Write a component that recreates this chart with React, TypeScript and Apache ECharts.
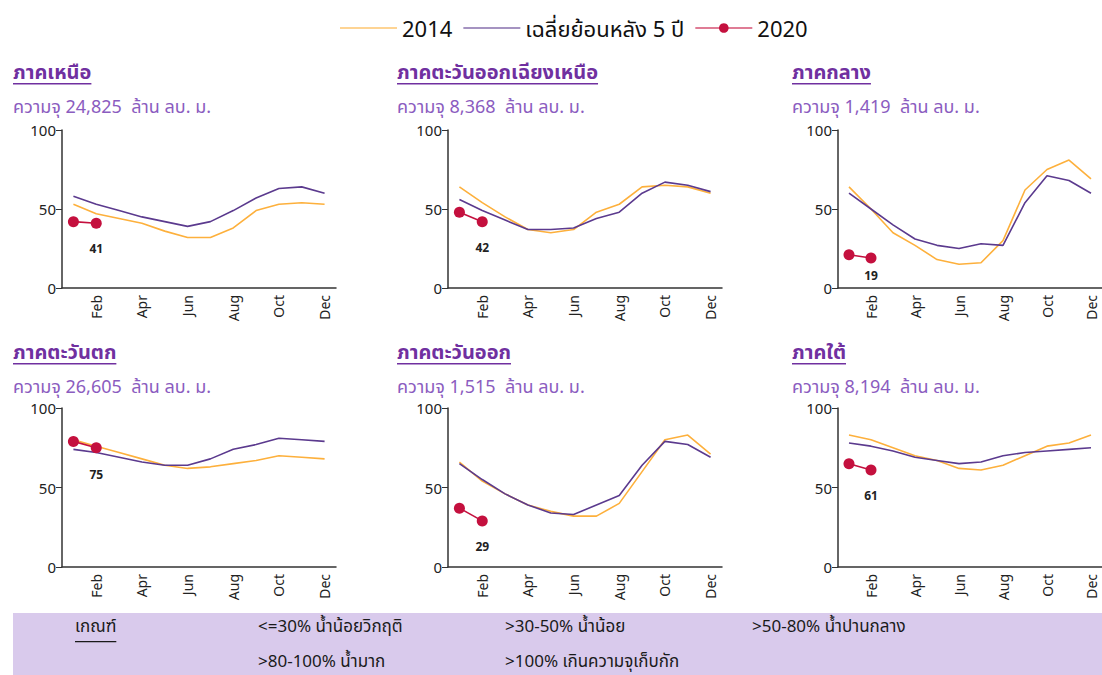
import React, { useEffect, useRef } from 'react';
import * as echarts from 'echarts';

const months = ['Jan', 'Feb', 'Mar', 'Apr', 'May', 'Jun', 'Jul', 'Aug', 'Sep', 'Oct', 'Nov', 'Dec'];
const regionNames = ['ภาคเหนือ', 'ภาคตะวันออกเฉียงเหนือ', 'ภาคกลาง', 'ภาคตะวันตก', 'ภาคตะวันออก', 'ภาคใต้'];
const capacities = ['24,825', '8,368', '1,419', '26,605', '1,515', '8,194'];
const yTicks = [0, 50, 100];

const north2014 = [53, 47, 44, 41, 36, 32, 32, 38, 49, 53, 54, 53];
const northAvg = [58, 53, 49, 45, 42, 39, 42, 49, 57, 63, 64, 60];
const north2020 = [42, 41];

const ne2014 = [64, 54, 45, 37, 35, 37, 48, 53, 64, 65, 64, 60];
const neAvg = [56, 49, 43, 37, 37, 38, 44, 48, 60, 67, 65, 61];
const ne2020 = [48, 42];

const central2014 = [64, 50, 35, 27, 18, 15, 16, 30, 62, 75, 81, 69];
const centralAvg = [60, 50, 40, 31, 27, 25, 28, 27, 54, 71, 68, 60];
const central2020 = [21, 19];

const west2014 = [80, 76, 72, 68, 64, 62, 63, 65, 67, 70, 69, 68];
const westAvg = [74, 72, 69, 66, 64, 64, 68, 74, 77, 81, 80, 79];
const west2020 = [79, 75];

const east2014 = [66, 54, 46, 39, 35, 32, 32, 40, 60, 80, 83, 71];
const eastAvg = [65, 55, 46, 39, 34, 33, 39, 45, 64, 79, 77, 69];
const east2020 = [37, 29];

const south2014 = [83, 80, 75, 70, 67, 62, 61, 64, 70, 76, 78, 83];
const southAvg = [78, 76, 73, 69, 67, 65, 66, 70, 72, 73, 74, 75];
const south2020 = [65, 61];

const seriesNames = ['2014', 'เฉลี่ยย้อนหลัง 5 ปี', '2020'];
const criteriaTitle = 'เกณฑ์';
const criteriaRow1 = ['<=30% น้ำน้อยวิกฤติ', '>30-50% น้ำน้อย', '>50-80% น้ำปานกลาง'];
const criteriaRow2 = ['>80-100% น้ำมาก', '>100% เกินความจุเก็บกัก'];

const data2014 = [north2014, ne2014, central2014, west2014, east2014, south2014];
const dataAvg = [northAvg, neAvg, centralAvg, westAvg, eastAvg, southAvg];
const data2020 = [north2020, ne2020, central2020, west2020, east2020, south2020];

const FONT = '"Noto Sans", "Noto Sans Thai", "Open Sans", sans-serif';
const C2014 = '#FDB03C';
const CAVG = '#5B3A8E';
const C2020 = '#C4103E';
const TITLE_C = '#7030A0';
const SUB_C = '#8B5CC0';

function measure(text: string, font: string): number {
  const c = document.createElement('canvas').getContext('2d');
  if (!c) return text.length * 10;
  c.font = font;
  return c.measureText(text).width;
}

export default function App() {
  const ref = useRef<HTMLDivElement>(null);
  useEffect(() => {
    document.body.style.margin = '0';
    document.body.style.overflow = 'hidden';
    if (!ref.current) return;
    const chart = echarts.init(ref.current, null, { renderer: 'svg' });

    const colX = [62, 448, 838];
    const rowTop = [130, 408];
    const gw = 274;
    const gh = 158;
    const titleX = [13, 397, 792];
    const titleY = [75, 355];
    const subY = [110, 390];
    const labelDist = [14, 14, 6, 15, 14, 14];

    const grids: any[] = [];
    const xAxes: any[] = [];
    const yAxes: any[] = [];
    const series: any[] = [];
    const graphics: any[] = [];

    regionNames.forEach((name, i) => {
      const col = i % 3;
      const row = Math.floor(i / 3);
      grids.push({ left: colX[col], top: rowTop[row], width: gw, height: gh + (row === 1 ? 1 : 0) });
      xAxes.push({
        type: 'category',
        gridIndex: i,
        data: months,
        boundaryGap: true,
        axisLine: { show: true, lineStyle: { color: '#333', width: 1.5 } },
        axisTick: { show: false },
        axisLabel: {
          rotate: 90,
          interval: (idx: number) => idx % 2 === 1,
          color: '#222',
          fontSize: 14,
          fontFamily: FONT,
          margin: 7,
        },
        splitLine: { show: false },
      });
      yAxes.push({
        type: 'value',
        gridIndex: i,
        min: yTicks[0],
        max: yTicks[yTicks.length - 1],
        interval: 50,
        axisLine: { show: true, lineStyle: { color: '#333', width: 1.5 } },
        axisTick: { show: true, length: 6, lineStyle: { color: '#333' } },
        axisLabel: { color: '#222', fontSize: 15, fontFamily: FONT, margin: 6 },
        splitLine: { show: false },
      });
      series.push({
        name: seriesNames[0],
        type: 'line',
        xAxisIndex: i,
        yAxisIndex: i,
        data: data2014[i],
        symbol: 'none',
        lineStyle: { color: C2014, width: 1.6 },
        itemStyle: { color: C2014 },
      });
      series.push({
        name: seriesNames[1],
        type: 'line',
        xAxisIndex: i,
        yAxisIndex: i,
        data: dataAvg[i],
        symbol: 'none',
        lineStyle: { color: CAVG, width: 1.6 },
        itemStyle: { color: CAVG },
      });
      series.push({
        name: seriesNames[2],
        type: 'line',
        xAxisIndex: i,
        yAxisIndex: i,
        data: data2020[i].map((v, k) =>
          k === data2020[i].length - 1 ? { value: v, label: { show: true } } : v
        ),
        symbol: 'circle',
        symbolSize: 11,
        lineStyle: { color: C2020, width: 1.6 },
        itemStyle: { color: C2020 },
        label: {
          show: false,
          position: 'bottom',
          distance: labelDist[i],
          color: '#222',
          fontSize: 12,
          fontWeight: 'bold',
          fontFamily: FONT,
        },
        z: 5,
      });

      const tFont = `bold 20px ${FONT}`;
      const tw = measure(name, tFont);
      graphics.push({
        type: 'text',
        left: titleX[col],
        top: titleY[row] - 14,
        style: { text: name, fill: TITLE_C, font: tFont },
      });
      graphics.push({
        type: 'rect',
        shape: { x: titleX[col], y: titleY[row] + 8, width: tw, height: 1.6 },
        style: { fill: TITLE_C },
      });
      graphics.push({
        type: 'text',
        left: titleX[col],
        top: subY[row] - 13,
        style: { text: `ความจุ ${capacities[i]}  ล้าน ลบ. ม.`, fill: SUB_C, font: `18px ${FONT}` },
      });
    });

    // criteria box
    graphics.push({
      type: 'rect',
      shape: { x: 13, y: 613, width: 1100, height: 70 },
      style: { fill: '#D9CAEC' },
    });
    const cFont = `17px ${FONT}`;
    const cw = measure(criteriaTitle, cFont);
    graphics.push({
      type: 'text',
      left: 75,
      top: 617,
      style: { text: criteriaTitle, fill: '#1a1a1a', font: cFont },
    });
    graphics.push({
      type: 'rect',
      shape: { x: 75, y: 641, width: cw, height: 1.2 },
      style: { fill: '#1a1a1a' },
    });
    const critX = [258, 505, 752];
    criteriaRow1.forEach((t, k) => {
      graphics.push({ type: 'text', left: critX[k], top: 617, style: { text: t, fill: '#1a1a1a', font: cFont } });
    });
    criteriaRow2.forEach((t, k) => {
      graphics.push({ type: 'text', left: critX[k], top: 652, style: { text: t, fill: '#1a1a1a', font: cFont } });
    });

    chart.setOption({
      animation: false,
      backgroundColor: '#ffffff',
      textStyle: { fontFamily: FONT },
      legend: {
        data: [
          { name: seriesNames[0], itemStyle: { opacity: 0 } },
          { name: seriesNames[1], itemStyle: { opacity: 0 } },
          { name: seriesNames[2] },
        ],
        left: 334,
        top: 12,
        itemWidth: 57,
        itemHeight: 12,
        itemGap: 10,
        textStyle: { fontSize: 22, color: '#111', fontFamily: FONT },
        lineStyle: { opacity: 0.55 },
      },
      grid: grids,
      xAxis: xAxes,
      yAxis: yAxes,
      series,
      graphic: graphics,
    });
    return () => chart.dispose();
  }, []);
  return <div ref={ref} style={{ width: 1102, height: 675, overflow: 'hidden' }} />;
}
